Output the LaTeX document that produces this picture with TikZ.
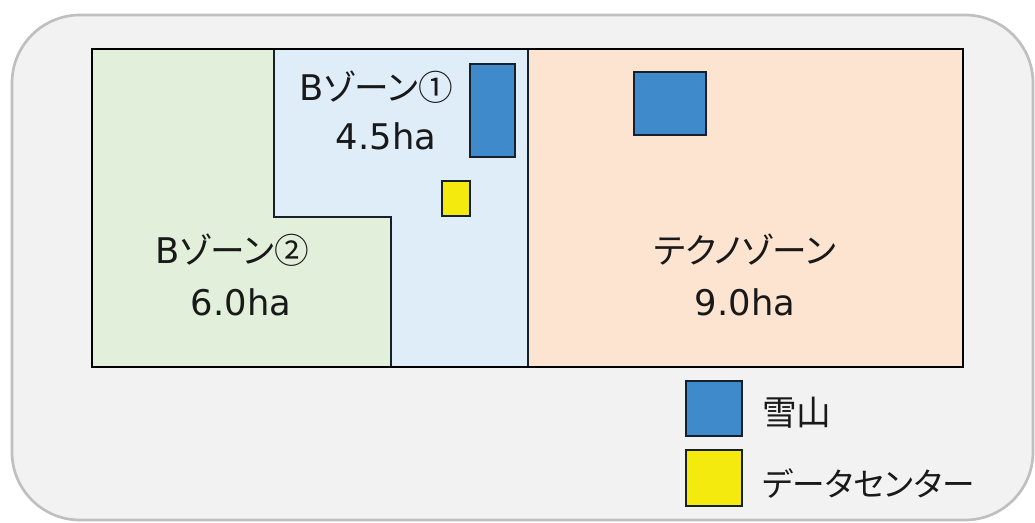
\documentclass[tikz,border=0pt]{standalone}
\usepackage{fontspec}
\setmainfont{Noto Sans CJK JP}[RawFeature=+palt]
\newfontfamily\latinfont{DejaVu Sans}
\definecolor{bgfill}{HTML}{F2F2F2}
\definecolor{bgline}{HTML}{BFBFBF}
\definecolor{zgreen}{HTML}{E2EFDA}
\definecolor{zblue}{HTML}{DFEDF9}
\definecolor{zorange}{HTML}{FCE4D0}
\definecolor{snow}{HTML}{3F8ACB}
\definecolor{dc}{HTML}{F4EA0E}
\definecolor{edge}{HTML}{15202A}
\tikzset{
  lbl/.style={font=\fontsize{26}{30}\selectfont, inner sep=0pt, text=black!90},
  legendtxt/.style={lbl, anchor=west},
  item/.style={draw=edge, line width=1.9pt},
  zone/.style={draw=edge, line width=1.5pt},
}
\newcommand{\lt}[1]{{\latinfont\fontsize{26.5}{30}\selectfont #1}}
\begin{document}
\begin{tikzpicture}[x=0.75pt,y=-0.75pt]
\useasboundingbox (0,0) rectangle (1035,522);
% outer panel
\draw[fill=bgfill, draw=bgline, line width=2pt, rounded corners=51pt] (12,15) rectangle (1033,520);
% zones
\fill[zgreen] (92,49) -- (274,49) -- (274,217) -- (391,217) -- (391,367) -- (92,367) -- cycle;
\fill[zblue] (274,49) -- (528,49) -- (528,367) -- (391,367) -- (391,217) -- (274,217) -- cycle;
\fill[zorange] (528,49) rectangle (963,367);
\draw[zone] (274,49) -- (274,217) -- (391,217) -- (391,367);
\draw[zone, line width=2pt] (528,49) -- (528,367);
\draw[draw=black, line width=2.2pt] (92,49) rectangle (963,367);
% items
\draw[item, fill=snow] (470,64) rectangle (515,157);
\draw[item, fill=dc] (442,181) rectangle (470,216);
\draw[item, fill=snow] (634,72) rectangle (706,135);
% labels
\node[lbl] (b1) at (376,87) {\lt{B}ゾーン①};
\node[lbl] (b1a) at (386,136) {\lt{4.5ha}};
\node[lbl] (b2) at (232,250) {\lt{B}ゾーン②};
\node[lbl] (b2a) at (241,302) {\lt{6.0ha}};
\node[lbl] (tz) at (745,250) {テクノゾーン};
\node[lbl] (tza) at (745,302) {\lt{9.0ha}};
% legend
\draw[item, fill=snow] (686,381) rectangle (742,436);
\draw[item, fill=dc] (686,450) rectangle (742,506);
\node[legendtxt] (l1) at (762,413) {雪山};
\node[legendtxt, font=\fontsize{24.5}{30}\selectfont] (l2) at (762,484) {データセンター};
\end{tikzpicture}
\end{document}
